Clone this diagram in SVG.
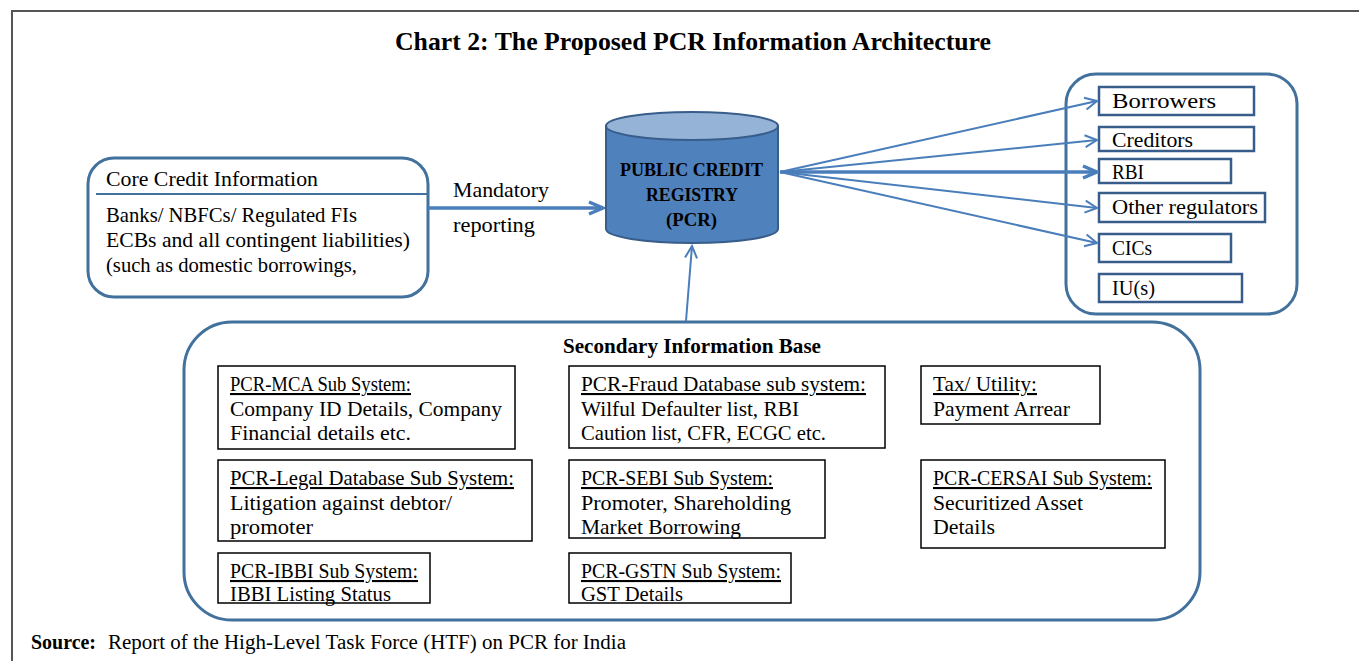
<svg xmlns="http://www.w3.org/2000/svg" width="1359" height="661" viewBox="0 0 1359 661">
<defs>
<style>
text{font-family:"Liberation Serif","Times New Roman",serif;fill:#000}
.t{font-size:21px}
.b{font-weight:bold}
.u{text-decoration:underline}
.box{fill:#fff;stroke:#000;stroke-width:1.5}
.cont{fill:#fff;stroke:#41719C;stroke-width:3}
.conn{stroke:#4A7EBB;stroke-width:2;fill:none}
.thick{stroke:#4A7EBB;stroke-width:3.5;fill:none}
.rbox{fill:#fff;stroke:#385D8A;stroke-width:2.5}
</style>
<marker id="ah" markerUnits="userSpaceOnUse" markerWidth="16" markerHeight="16" viewBox="0 0 16 16" refX="14" refY="8" orient="auto">
<path d="M2,2 L14,8 L2,14" fill="none" stroke="#4A7EBB" stroke-width="2"/>
</marker>
<marker id="ahT" markerUnits="userSpaceOnUse" markerWidth="18" markerHeight="18" viewBox="0 0 18 18" refX="16" refY="9" orient="auto">
<path d="M2,3 L16,9 L2,15" fill="none" stroke="#4A7EBB" stroke-width="3.5"/>
</marker>
</defs>
<rect width="1359" height="661" fill="#fff"/>
<path d="M12,661 L12,11 L1359,11" fill="none" stroke="#555" stroke-width="2"/>
<text x="395" y="50" class="b" font-size="25" textLength="596" lengthAdjust="spacingAndGlyphs">Chart 2: The Proposed PCR Information Architecture</text>

<g id="core">
<rect x="88" y="158" width="340" height="139" rx="26" class="cont"/>
<line x1="96" y1="194" x2="428" y2="194" stroke="#41719C" stroke-width="2"/>
<text x="106" y="186" class="t" textLength="212" lengthAdjust="spacingAndGlyphs">Core Credit Information</text>
<text x="106" y="222" class="t" textLength="251" lengthAdjust="spacingAndGlyphs">Banks/ NBFCs/ Regulated FIs</text>
<text x="106" y="247" class="t" textLength="304" lengthAdjust="spacingAndGlyphs">ECBs and all contingent liabilities)</text>
<text x="106" y="272" class="t" textLength="251" lengthAdjust="spacingAndGlyphs">(such as domestic borrowings,</text>
</g>

<g id="pcr">
<path d="M606,126 L606,229 A86,14 0 0 0 778,229 L778,126 Z" fill="#4F81BD" stroke="#385D8A" stroke-width="2"/>
<ellipse cx="692" cy="126" rx="86" ry="14" fill="#95B3D7" stroke="#385D8A" stroke-width="2"/>
<text x="620" y="176" class="b" font-size="19" textLength="143" lengthAdjust="spacingAndGlyphs">PUBLIC CREDIT</text>
<text x="646" y="201" class="b" font-size="19" textLength="92" lengthAdjust="spacingAndGlyphs">REGISTRY</text>
<text x="666" y="226" class="b" font-size="19" textLength="51" lengthAdjust="spacingAndGlyphs">(PCR)</text>
</g>

<g id="users">
<rect x="1066" y="74" width="231" height="240" rx="30" class="cont"/>
<g id="borrowers"><rect x="1099" y="87" width="155" height="28" class="rbox"/><text x="1112" y="108" class="t" textLength="104" lengthAdjust="spacingAndGlyphs">Borrowers</text></g>
<g id="creditors"><rect x="1099" y="127" width="155" height="24" class="rbox"/><text x="1112" y="147" class="t" textLength="81" lengthAdjust="spacingAndGlyphs">Creditors</text></g>
<g id="rbi"><rect x="1099" y="159" width="132" height="24" class="rbox"/><text x="1112" y="179" class="t" textLength="32" lengthAdjust="spacingAndGlyphs">RBI</text></g>
<g id="otherreg"><rect x="1099" y="193" width="166" height="29" class="rbox"/><text x="1112" y="214" class="t" textLength="146" lengthAdjust="spacingAndGlyphs">Other regulators</text></g>
<g id="cics"><rect x="1099" y="234" width="132" height="28" class="rbox"/><text x="1112" y="255" class="t" textLength="40" lengthAdjust="spacingAndGlyphs">CICs</text></g>
<g id="ius"><rect x="1099" y="274" width="143" height="28" class="rbox"/><text x="1112" y="295" class="t" textLength="43" lengthAdjust="spacingAndGlyphs">IU(s)</text></g>
</g>

<g id="secondary">
<rect x="184" y="322" width="1016" height="298" rx="48" class="cont"/>
<text x="563" y="353" class="b" font-size="21" textLength="258" lengthAdjust="spacingAndGlyphs">Secondary Information Base</text>
<g id="mca"><rect x="218" y="366" width="297" height="83" class="box"/>
<text x="230" y="391" class="t u" textLength="181" lengthAdjust="spacingAndGlyphs">PCR-MCA Sub System:</text>
<text x="230" y="416" class="t" textLength="272" lengthAdjust="spacingAndGlyphs">Company ID Details, Company</text>
<text x="230" y="440" class="t" textLength="181" lengthAdjust="spacingAndGlyphs">Financial details etc.</text></g>
<g id="fraud"><rect x="569" y="366" width="316" height="82" class="box"/>
<text x="581" y="391" class="t u" textLength="285" lengthAdjust="spacingAndGlyphs">PCR-Fraud Database sub system:</text>
<text x="581" y="416" class="t" textLength="218" lengthAdjust="spacingAndGlyphs">Wilful Defaulter list, RBI</text>
<text x="581" y="440" class="t" textLength="245" lengthAdjust="spacingAndGlyphs">Caution list, CFR, ECGC etc.</text></g>
<g id="tax"><rect x="921" y="366" width="179" height="58" class="box"/>
<text x="933" y="391" class="t u" textLength="104" lengthAdjust="spacingAndGlyphs">Tax/ Utility:</text>
<text x="933" y="416" class="t" textLength="137" lengthAdjust="spacingAndGlyphs">Payment Arrear</text></g>
<g id="legal"><rect x="218" y="460" width="314" height="81" class="box"/>
<text x="230" y="485" class="t u" textLength="284" lengthAdjust="spacingAndGlyphs">PCR-Legal Database Sub System:</text>
<text x="230" y="510" class="t" textLength="222" lengthAdjust="spacingAndGlyphs">Litigation against debtor/</text>
<text x="230" y="534" class="t" textLength="83" lengthAdjust="spacingAndGlyphs">promoter</text></g>
<g id="sebi"><rect x="569" y="460" width="256" height="78" class="box"/>
<text x="581" y="485" class="t u" textLength="192" lengthAdjust="spacingAndGlyphs">PCR-SEBI Sub System:</text>
<text x="581" y="510" class="t" textLength="210" lengthAdjust="spacingAndGlyphs">Promoter, Shareholding</text>
<text x="581" y="534" class="t" textLength="160" lengthAdjust="spacingAndGlyphs">Market Borrowing</text></g>
<g id="cersai"><rect x="921" y="460" width="244" height="88" class="box"/>
<text x="933" y="485" class="t u" textLength="219" lengthAdjust="spacingAndGlyphs">PCR-CERSAI Sub System:</text>
<text x="933" y="510" class="t" textLength="150" lengthAdjust="spacingAndGlyphs">Securitized Asset</text>
<text x="933" y="534" class="t" textLength="62" lengthAdjust="spacingAndGlyphs">Details</text></g>
<g id="ibbi"><rect x="218" y="553" width="212" height="50" class="box"/>
<text x="230" y="578" class="t u" textLength="188" lengthAdjust="spacingAndGlyphs">PCR-IBBI Sub System:</text>
<text x="230" y="601" class="t" textLength="161" lengthAdjust="spacingAndGlyphs">IBBI Listing Status</text></g>
<g id="gstn"><rect x="569" y="553" width="222" height="50" class="box"/>
<text x="581" y="578" class="t u" textLength="200" lengthAdjust="spacingAndGlyphs">PCR-GSTN Sub System:</text>
<text x="581" y="601" class="t" textLength="102" lengthAdjust="spacingAndGlyphs">GST Details</text></g>
</g>

<g id="connectors">
<line x1="428" y1="208" x2="603" y2="208" class="thick" marker-end="url(#ahT)"/>
<line x1="780" y1="172" x2="1097" y2="101" class="conn" marker-end="url(#ah)"/>
<line x1="780" y1="172" x2="1097" y2="140" class="conn" marker-end="url(#ah)"/>
<line x1="780" y1="172" x2="1097" y2="172" class="thick" marker-end="url(#ahT)"/>
<line x1="780" y1="172" x2="1097" y2="208" class="conn" marker-end="url(#ah)"/>
<line x1="780" y1="172" x2="1097" y2="243" class="conn" marker-end="url(#ah)"/>
<line x1="686" y1="321" x2="692" y2="246" class="conn" marker-end="url(#ah)"/>
</g>
<text x="453" y="197" class="t" textLength="96" lengthAdjust="spacingAndGlyphs">Mandatory</text>
<text x="453" y="232" class="t" textLength="82" lengthAdjust="spacingAndGlyphs">reporting</text>

<text x="31" y="649" font-size="20" class="b" textLength="65" lengthAdjust="spacingAndGlyphs">Source:</text>
<text x="108" y="649" font-size="20" textLength="518" lengthAdjust="spacingAndGlyphs">Report of the High-Level Task Force (HTF) on PCR for India</text>
</svg>
